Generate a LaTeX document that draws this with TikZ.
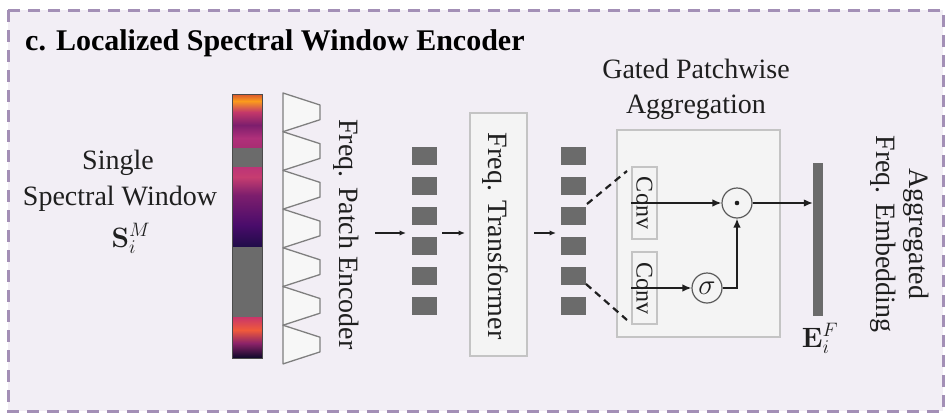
\documentclass[tikz,border=0pt]{standalone}
\usepackage[no-math]{fontspec}
\usepackage{graphicx}
\setmainfont{Liberation Serif}
\usetikzlibrary{arrows.meta,calc}

% palette
\definecolor{ink}{HTML}{1F1F1F}
\definecolor{panelfill}{HTML}{F2EEF5}
\definecolor{panelframe}{HTML}{A38FB6}
\definecolor{boxfill}{HTML}{F4F4F4}
\definecolor{boxline}{HTML}{C4C4C4}
\definecolor{tokgray}{HTML}{6B6B6B}
\definecolor{trapline}{HTML}{7F7F7F}
\definecolor{trapfill}{HTML}{F7F7F7}
\definecolor{opline}{HTML}{5A5A5A}
% inferno-like heat colours
\definecolor{hA}{HTML}{D9552E}
\definecolor{hB}{HTML}{FB9B1C}
\definecolor{hC}{HTML}{C4386A}
\definecolor{hD}{HTML}{7D1E6D}
\definecolor{hE}{HTML}{B0307A}
\definecolor{hF}{HTML}{A82D72}
\definecolor{hG}{HTML}{BC3477}
\definecolor{hH}{HTML}{C63D70}
\definecolor{hI}{HTML}{4A0C6B}
\definecolor{hJ}{HTML}{1F0C48}
\definecolor{hK}{HTML}{C9366A}
\definecolor{hL}{HTML}{F05A3A}
\definecolor{hM}{HTML}{8C2369}
\definecolor{hN}{HTML}{0D0829}

% one vertical band of the spectrogram strip
\newcommand\heatband[4]{\shade[top color=#3,bottom color=#4] (232,#1) rectangle (262,#2);}

\begin{document}
\begin{tikzpicture}[x=1pt,y=-1pt,
  txt/.style={font=\fontsize{28}{34}\selectfont, text=ink, inner sep=0pt},
  mathlbl/.style={font=\fontsize{20.74}{25}\selectfont, scale=1.35, text=ink, inner sep=0pt},
  sq/.style={fill=tokgray, minimum width=25pt, minimum height=18pt, inner sep=0pt},
  greybox/.style={draw=boxline, fill=boxfill, line width=1.4pt, inner sep=0pt},
  flow/.style={draw=ink, line width=1.3pt, -{Latex[length=6.5pt,width=5.5pt]}},
  gflow/.style={draw=ink, line width=1.4pt, -{Latex[length=9pt,width=7.5pt]}},
  split/.style={draw=ink, line width=2.2pt, dash pattern=on 7pt off 5pt},
  opnode/.style={circle, draw=opline, line width=1.2pt, minimum size=30pt,
                 inner sep=0pt, fill=boxfill, text=ink, font=\fontsize{20.74}{25}\selectfont},
  trap/.style={draw=trapline, fill=trapfill, line width=1.3pt, line join=round}]

\useasboundingbox (0,0) rectangle (948,418);
\fill[white] (0,0) rectangle (948,418);

% panel
\draw[panelframe, fill=panelfill, line width=3pt, dash pattern=on 12pt off 8pt]
  (8,10) rectangle (943,411);

\node[anchor=base west, inner sep=0pt, text=black,
      font=\bfseries\fontsize{30}{36}\selectfont] (title) at (25,50)
  {c. Localized Spectral Window Encoder};

% input label
\node[txt, anchor=base] (single) at (118,169) {Single};
\node[txt, anchor=base] (specwin) at (120,205) {Spectral Window};
\node[mathlbl, anchor=base] (smat) at (131,247) {$\mathbf{S}_i^M$};

% spectrogram strip
\heatband{94}{101}{hA}{hB}
\heatband{101}{112}{hB}{hC}
\heatband{112}{125}{hC}{hD}
\heatband{125}{138}{hD}{hE}
\heatband{138}{148}{hE}{hF}
\fill[tokgray] (232,148) rectangle (262,167);
\heatband{167}{177}{hG}{hH}
\heatband{177}{195}{hH}{hD}
\heatband{195}{225}{hD}{hI}
\heatband{225}{247}{hI}{hJ}
\fill[tokgray] (232,247) rectangle (262,317);
\heatband{317}{330}{hK}{hL}
\heatband{330}{343}{hL}{hM}
\heatband{343}{358}{hM}{hN}
\draw[tokgray!70!black, line width=0.8pt] (232,94) rectangle (262,358);

% patch encoder trapezoids
\foreach \k in {0,...,6}{
  \pgfmathsetmacro\tp{93+38.7*\k}
  \draw[trap] (283,\tp) -- (320,\tp+12) -- (320,\tp+26.7) -- (283,\tp+38.7) -- cycle;
}
\node[txt, rotate=-90, anchor=base] (enclab) at (339,234.5) {Freq. Patch Encoder};

% patch tokens
\foreach \r in {1,...,6}{
  \node[sq] (ta\r) at (424.5,126+30*\r) {};
  \node[sq] (tb\r) at (573.5,126+30*\r) {};
}

% frequency transformer
\node[greybox, minimum width=57pt, minimum height=243pt] (tf) at (498.5,234.5) {};
\node[txt, rotate=-90, anchor=base] (tflab) at (488,236) {Freq. Transformer};

\coordinate (a1s) at (375,233);
\coordinate (a1e) at (406,233);
\coordinate (a2s) at (442,233);
\coordinate (a2e) at (465,233);
\coordinate (a3s) at (534,233);
\coordinate (a3e) at (556,233);
\draw[flow] (a1s) -- (a1e);
\draw[flow] (a2s) -- (a2e);
\draw[flow] (a3s) -- (a3e);

% gated patchwise aggregation
\node[txt, anchor=base] (gt1) at (696,78) {Gated Patchwise};
\node[txt, anchor=base] (gt2) at (696,113) {Aggregation};
\node[greybox, minimum width=163pt, minimum height=207pt] (gate) at (698.5,233.5) {};

\node[greybox, rotate=-90, minimum width=72pt, minimum height=25pt, text=ink,
      font=\fontsize{24}{28}\selectfont] (conv1) at (644.5,203) {Conv};
\node[greybox, rotate=-90, minimum width=72pt, minimum height=25pt, text=ink,
      font=\fontsize{24}{28}\selectfont] (conv2) at (644.5,288) {Conv};

\node[opnode] (dot) at (737,203) {};
\fill[ink] (dot.center) circle (2.3pt);
\node[opnode] (sig) at (707,288) {\scalebox{1.4}{$\sigma$}};

\coordinate (s1a) at (587,204);
\coordinate (s1b) at (627,171);
\coordinate (s2a) at (586,284);
\coordinate (s2b) at (627,320);
\draw[split] (s1a) -- (s1b);
\draw[split] (s2a) -- (s2b);

\draw[gflow] (conv1.south) -- (dot.west);
\draw[gflow] (conv2.south) -- (sig.west);
\draw[gflow] (sig.east) -| (dot.south);

% aggregated embedding
\node[fill=tokgray, minimum width=10pt, minimum height=153pt, inner sep=0pt] (outbar) at (818,239.5) {};
\draw[gflow] (dot.east) -- (outbar.west |- dot.east);
\node[mathlbl, anchor=base] (emat) at (820,347) {$\mathbf{E}_i^F$};

\node[txt, rotate=-90, anchor=base] (agg1) at (909,234) {Aggregated};
\node[txt, rotate=-90, anchor=base] (agg2) at (876,234) {Freq. Embedding};

\end{tikzpicture}
\end{document}
